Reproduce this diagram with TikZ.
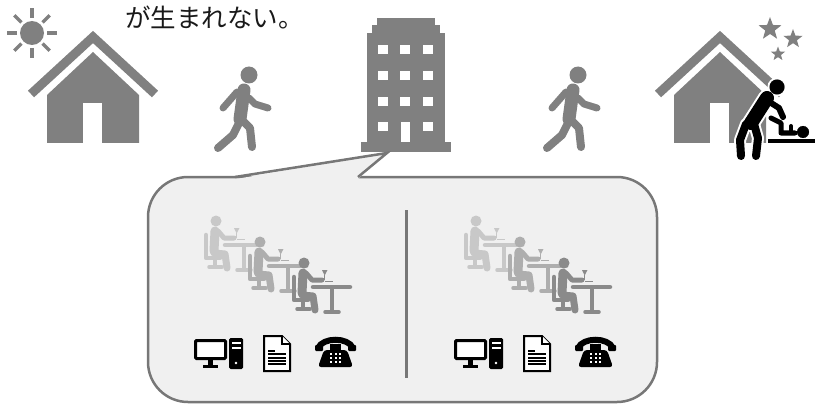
\documentclass[tikz,border=0pt]{standalone}
\usepackage{fontspec}
\newfontfamily\jpfont{Noto Sans CJK JP}
\usetikzlibrary{shapes.geometric}

\definecolor{icongray}{HTML}{808080}
\definecolor{panelfill}{HTML}{F0F0F0}
\definecolor{panelline}{HTML}{777777}
\definecolor{seatlight}{HTML}{C8C8C8}
\definecolor{seatmid}{HTML}{AEAEAE}
\definecolor{seatdark}{HTML}{8A8A8A}

\tikzset{
  % house, origin at the foot of the door
  pics/house/.style={code={
    \draw[icongray, line width=9pt, line cap=butt, line join=miter] (-62,-49) -- (0,-106) -- (62,-49);
    \fill[icongray] (-46,-48) -- (0,-91) -- (46,-48) -- (46,0) -- (-46,0) -- cycle;
    \fill[white] (-10,-40) rectangle (9,0);
  }},
  % walking man, origin at the head
  pics/walker/.style={code={
    \fill[icongray] (0,0) circle (8.5pt);
    \draw[icongray, line width=13pt, line cap=round] (-5,15) -- (-9,44);
    \draw[icongray, line width=7pt, line cap=round] (-12,17) -- (-26,33);
    \draw[icongray, line width=7pt, line cap=round, line join=round] (0,23) -- (6,29) -- (19,33);
    \draw[icongray, line width=8pt, line cap=round, line join=round] (-9,46) -- (-16,60) -- (-31,73);
    \draw[icongray, line width=8pt, line cap=round, line join=round] (-6,46) -- (1,53) -- (3,72);
  }},
  % seated worker at a desk, origin at the head
  pics/worker/.style={code={
    \fill (0,0) circle (5.5pt);
    \draw[line width=9pt, line cap=round] (-1,10) -- (-2,30);
    \draw[line width=7pt, line cap=round, line join=round] (-2,32) -- (9,33) -- (11,47);
    \draw[line width=5pt, line cap=round, line join=round] (2,10) -- (8,17) -- (18,17);
    \draw[line width=4.5pt, line cap=round, line join=round] (-10,14) -- (-10,37) -- (4,37);
    \draw[line width=3.5pt] (-1,37) -- (-1,46);
    \draw[line width=3.5pt, line cap=round] (-7,46) -- (6,46);
    \draw[line width=4.5pt, line cap=round] (9,24) -- (46,24);
    \draw[line width=4.5pt] (28,24) -- (28,49);
    \draw[line width=3.5pt, line cap=round] (21,49) -- (35,49);
    \fill (18,7) -- (23.5,7) -- (20.7,12.5) -- cycle;
    \draw[line width=1.3pt] (20.7,12) -- (20.7,17) (21,18.5) -- (29,18.5);
  }},
  % desktop computer, origin at the top left of the screen
  pics/computer/.style={code={
    \draw[line width=3pt, fill=white, rounded corners=1pt] (1.5,1.5) rectangle (31.5,19.5);
    \fill (14,20) rectangle (19,26);
    \fill (9,25.5) rectangle (24,28.5);
    \fill[rounded corners=1.5pt] (35,-1) rectangle (49,30);
    \fill[white] (37.5,3) rectangle (46.5,5);
    \fill[white] (37.5,7.5) rectangle (46.5,9.5);
    \fill[white] (42,24) circle (1.4pt);
  }},
  % sheet of paper, origin at its top left
  pics/sheet/.style={code={
    \draw[line width=2pt, fill=white, line join=miter] (1,1) -- (19,1) -- (27,9) -- (27,36) -- (1,36) -- cycle;
    \draw[line width=2pt, fill=white, line join=miter] (19,1) -- (19,9) -- (27,9);
    \draw[line width=2pt] (5,15.7) -- (12,15.7);
    \foreach \ly in {19.3,22.7,26,29.3}
      \draw[line width=2pt] (5,\ly) -- (23,\ly);
  }},
  % telephone, origin at the top left
  pics/phone/.style={code={
    \draw[line width=6pt] (3,10) .. controls (8,-1) and (33,-1) .. (38,10);
    \fill[rounded corners=1pt] (0,7) rectangle (8,13);
    \fill[rounded corners=1pt] (33,7) rectangle (41,13);
    \fill (15,6) rectangle (26,13);
    \fill[rounded corners=3pt] (9,12) -- (32,12) -- (38,29) -- (3,29) -- cycle;
    \foreach \kx in {-4.5,0,4.5}
      \foreach \ky in {-4,0,4}
        \fill[white] ({20.5+\kx-1},{20+\ky-1}) rectangle ({20.5+\kx+1},{20+\ky+1});
  }},
  % parent changing a baby, #1 widens every stroke
  pics/carer/.style={code={
    \filldraw[line width=#1] (777,87) circle (7.5pt);
    \draw[line width=14pt+#1, line cap=round] (767,98) -- (751,123);
    \draw[line width=6pt+#1, line cap=round, line join=round] (768,101) -- (779,108) -- (783,117);
    \draw[line width=8pt+#1, line cap=round, line join=round] (746,124) -- (740,140) -- (741,156);
    \draw[line width=8pt+#1, line cap=round, line join=round] (754,124) -- (758,138) -- (756,156);
    \draw[line width=5pt+#1, line cap=round, line join=round] (771,118) -- (781,123) -- (781,133) -- (795,133);
    \draw[line width=4pt+#1, line cap=round] (791,126) -- (791,133);
    \filldraw[line width=#1] (803,132) circle (6pt);
    \draw[line width=3pt+#1] (768,141) -- (816,141);
  }},
}

\begin{document}
\begin{tikzpicture}[x=1pt, y=-1pt,
    callout/.style={draw=panelline, line width=2.5pt, fill=panelfill},
    ray/.style={draw=icongray, line width=3.5pt},
    twinkle/.style={star, star points=5, star point ratio=2.4, fill=icongray, inner sep=0pt}]
  \useasboundingbox (0,0) rectangle (815,404);

  \node[font=\jpfont\fontsize{25.5}{26}\selectfont, anchor=base west, inner sep=0pt, text=black!90] (caption) at (125,28) {が生まれない。};

  % morning: sun and home
  \fill[icongray] (32,33) circle (12pt);
  \foreach \a in {0,45,...,315}
    \draw[ray] (32,33) ++(\a:15) -- ++(\a:10);
  \pic at (93,143) {house};

  \pic at (249,75) {walker};
  \pic at (578,75) {walker};

  % office building
  \fill[icongray] (377,18) rectangle (435,26);
  \fill[icongray] (372,25) rectangle (440,34);
  \fill[icongray] (367,33) rectangle (445,143);
  \fill[icongray] (361,142) rectangle (451,152);
  \foreach \wy in {50,75.5,101.5}
    \foreach \wx in {383,405,428}
      \fill[white] (\wx-5,\wy-4.5) rectangle (\wx+5,\wy+4.5);
  \fill[white] (378,122) rectangle (388,131);
  \fill[white] (423,122) rectangle (433,131);
  \fill[white] (401,122) rectangle (410,142);

  % evening: stars and home
  \pic at (720,143) {house};
  \node[twinkle, minimum size=24pt] (star1) at (770,29) {};
  \node[twinkle, minimum size=20pt] (star2) at (793,39) {};
  \node[twinkle, minimum size=15pt] (star3) at (778,54) {};
  \pic[white] {carer=4pt};
  \pic[black] {carer=0.01pt};

  % speech bubble from the building
  \draw[callout, rounded corners=40pt] (148,177) rectangle (657,402);
  \fill[panelfill] (236,179) -- (387,153) -- (358,179) -- cycle;
  \draw[panelline, line width=2.5pt, line join=miter] (235,177) -- (387,153) -- (358,177);
  \draw[panelline, line width=3pt] (406,210) -- (406,378);

  % two desks rows, each with its office tools
  \foreach \dx in {0,260} {
    \pic[seatlight] at (216+\dx,221) {worker};
    \pic[seatmid] at (260+\dx,242) {worker};
    \pic[seatdark] at (304+\dx,263) {worker};
    \pic[black] at (194+\dx,339) {computer};
    \pic[black] at (263+\dx,335) {sheet};
    \pic[black] at (315+\dx,338) {phone};
  }
\end{tikzpicture}
\end{document}
